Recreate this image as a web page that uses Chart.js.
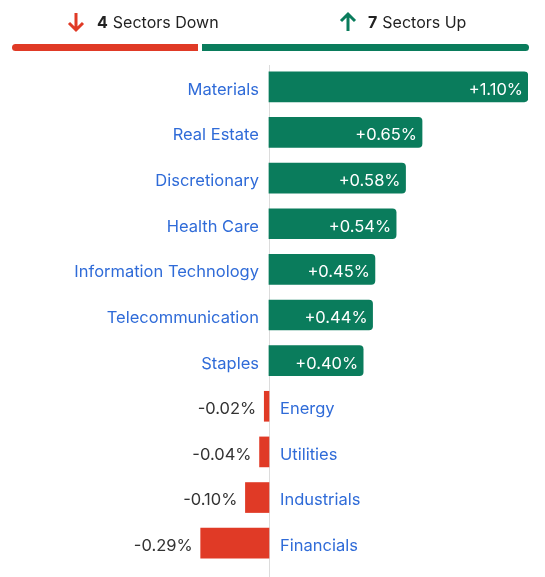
<!DOCTYPE html>
<html><head><meta charset="utf-8">
<script src="https://cdn.jsdelivr.net/npm/chart.js@4"></script>
<style>
body{margin:0;background:#fff;font-family:Inter,"Noto Sans",sans-serif;}
#wrap{position:relative;width:545px;height:577px;}
canvas{position:absolute;left:0;top:0;}
.hdr{position:absolute;top:11px;font-size:16px;color:#222;display:flex;align-items:center;}
.hdr b{margin-right:5px;}
.bar{position:absolute;top:44px;height:7px;border-radius:4px;}
</style></head><body>
<div id="wrap">
<canvas id="c" width="545" height="577"></canvas>
<div class="hdr" style="left:66px"><svg width="20" height="22" viewBox="0 0 20 22" style="margin-right:11px"><path d="M10 2 V19 M3 12 L10 19 L17 12" stroke="#e03a26" stroke-width="3" fill="none"/></svg><b>4</b>Sectors Down</div>
<div class="hdr" style="left:338px"><svg width="20" height="22" viewBox="0 0 20 22" style="margin-right:10px"><path d="M10 20 V3 M3 10 L10 3 L17 10" stroke="#0a7c5c" stroke-width="3" fill="none"/></svg><b>7</b>Sectors Up</div>
<div class="bar" style="left:12px;width:186px;background:#e03a26;border-radius:4px 0 0 4px"></div>
<div class="bar" style="left:202px;width:327px;background:#0a7c5c;border-radius:0 4px 4px 0"></div>
</div>
<script>
const categories=["Materials","Real Estate","Discretionary","Health Care","Information Technology","Telecommunication","Staples","Energy","Utilities","Industrials","Financials"];
const values=[1.10,0.65,0.58,0.54,0.45,0.44,0.40,-0.02,-0.04,-0.10,-0.29];
const GREEN="#0a7c5c",RED="#e03a26",BLUE="#2f6bd8";
const fmt=v=>(v>0?"+":"")+v.toFixed(2)+"%";
const labelPlugin={id:"lbl",
 beforeDatasetsDraw(ch){const c=ch.ctx,x=ch.scales.x;const x0=x.getPixelForValue(0);
  c.save();c.strokeStyle="#dcdcdc";c.lineWidth=1;c.beginPath();c.moveTo(Math.round(x0)+0.5,65);c.lineTo(Math.round(x0)+0.5,577);c.stroke();c.restore();},
 afterDatasetsDraw(ch){const c=ch.ctx,x=ch.scales.x,y=ch.scales.y;const x0=x.getPixelForValue(0);
  c.save();c.font="16.5px Inter, 'Noto Sans', sans-serif";c.textBaseline="middle";
  values.forEach((v,i)=>{const yp=y.getPixelForValue(i)+3;const xe=x.getPixelForValue(v);
   if(v>=0){c.fillStyle=BLUE;c.textAlign="right";c.fillText(categories[i],x0-10,yp);
    c.fillStyle="#fff";c.fillText(fmt(v),xe-5,yp);}
   else{c.fillStyle=BLUE;c.textAlign="left";c.fillText(categories[i],x0+11,yp);
    c.fillStyle="#333";c.textAlign="right";c.fillText(fmt(v),xe-8,yp);}
  });c.restore();}};
new Chart(document.getElementById("c"),{type:"bar",
 data:{labels:categories,datasets:[{data:values,backgroundColor:values.map(v=>v>=0?GREEN:RED),
  barThickness:30,borderRadius:{topLeft:0,bottomLeft:0,topRight:4,bottomRight:4},borderSkipped:"start"}]},
 options:{indexAxis:"y",responsive:false,animation:false,
  layout:{padding:{left:0,right:17,top:64,bottom:11}},
  plugins:{legend:{display:false},tooltip:{enabled:false}},
  scales:{x:{display:false,min:-269/235.5,max:1.10},y:{display:false}}},
 plugins:[labelPlugin]});
</script></body></html>
